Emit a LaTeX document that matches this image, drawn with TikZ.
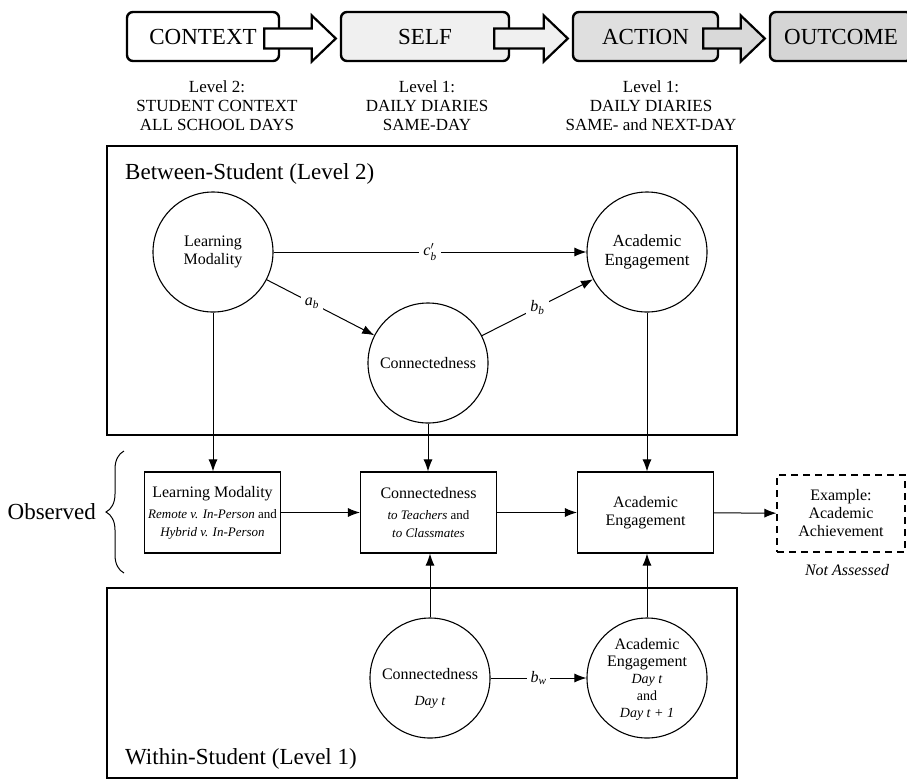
\documentclass[tikz,border=0pt]{standalone}
\usepackage{fontspec}
\setmainfont{Liberation Serif}
\usetikzlibrary{arrows.meta, calc, decorations.pathreplacing, positioning}

\newcommand{\fsz}[1]{\fontsize{#1}{#1}\selectfont}
\newcommand{\stagearrow}[3]{%
  \draw[bigarrow, fill=#3] ($(#1.east)+(-16,-8)$) -- ($(#2.west)+(-28,-8)$)
    -- ($(#2.west)+(-28,-21)$) -- ($(#2.west)+(-4,2)$) -- ($(#2.west)+(-28,25)$)
    -- ($(#2.west)+(-28,12)$) -- ($(#1.east)+(-16,12)$) -- cycle;}

\begin{document}
\begin{tikzpicture}[x=1pt, y=-1pt,
    stage/.style={draw, rounded corners=6pt, line width=2.4pt, minimum height=49pt, font=\fsz{23}},
    bigarrow/.style={draw, line width=2.2pt, line join=miter},
    levelnote/.style={align=center, font=\fontsize{17}{19}\selectfont},
    panel/.style={draw, line width=1.3pt},
    latent/.style={draw, circle, line width=1.1pt, minimum size=120pt, inner sep=0pt, align=center, font=\fontsize{16}{18}\selectfont},
    obs/.style={draw, line width=1.1pt, minimum width=136pt, minimum height=81pt, align=center, font=\fontsize{16}{18}\selectfont},
    link/.style={line width=1pt, -{Latex[length=12pt,width=9pt]}},
    coef/.style={fill=white, inner sep=4pt, font=\fontsize{16}{18}\selectfont}]
    \useasboundingbox (0,0) rectangle (907,780);
    \clip (0,0) rectangle (907,780);

    \node[stage, fill=white, minimum width=152pt] (context) at (203,36.5) {CONTEXT};
    \node[stage, fill=gray!12, minimum width=168pt] (self) at (425,36.5) {SELF};
    \node[stage, fill=gray!25, minimum width=145pt] (action) at (645.5,36.5) {ACTION};
    \node[stage, fill=gray!33, minimum width=142pt] (outcome) at (841,36.5) {OUTCOME};
    \stagearrow{context}{self}{white}
    \stagearrow{self}{action}{gray!12}
    \stagearrow{action}{outcome}{gray!30}

    \node[levelnote] (ctxnote) at (217,106) {Level 2:\\STUDENT CONTEXT\\ALL SCHOOL DAYS};
    \node[levelnote] (selfnote) at (427,106) {Level 1:\\DAILY DIARIES\\SAME-DAY};
    \node[levelnote] (actnote) at (651,106) {Level 1:\\DAILY DIARIES\\SAME- and NEXT-DAY};

    \draw[panel] (107,146) rectangle (737,435);
    \node[anchor=base west, inner sep=0pt, font=\fsz{23}] (btitle) at (125,179) {Between-Student (Level 2)};
    \draw[panel] (107,588) rectangle (737,778);
    \node[anchor=base west, inner sep=0pt, font=\fsz{23}] (wtitle) at (125,764) {Within-Student (Level 1)};

    \node[latent] (blm) at (213,252) {Learning\\Modality};
    \node[latent] (bconn) at (428,363) {Connectedness};
    \node[latent, font=\fontsize{17}{19}\selectfont] (bae) at (647,252) {Academic\\Engagement};

    \node[obs] (olm) at (212.5,512.5) {Learning Modality\\[3pt] {\fsz{13}\textit{Remote v. In-Person} and}\\ {\fsz{13}\textit{Hybrid v. In-Person}}};
    \node[obs] (oconn) at (428.5,512.5) {Connectedness\\[3pt] {\fsz{13}\textit{to Teachers} and}\\ {\fsz{13}\textit{to Classmates}}};
    \node[obs] (oae) at (645.5,512.5) {Academic\\Engagement};
    \node[obs, minimum width=128pt, minimum height=77pt, dash pattern=on 7pt off 5pt] (oach) at (841,513.5) {Example:\\Academic\\Achievement};
    \node[font=\fontsize{16}{18}\selectfont\itshape] (na) at (847,570) {Not Assessed};

    \node[latent] (wconn) at (430,678) {};
    \node[align=center, font=\fontsize{16}{18}\selectfont] (wconntext) at (430,688) {Connectedness\\[8pt] {\fsz{14}\textit{Day t}}};
    \node[latent] (wae) at (647,678) {};
    \node[align=center, font=\fontsize{16}{17}\selectfont] (waetext) at (647,679) {Academic\\Engagement\\ {\fsz{14}\textit{Day t}}\\ {\fsz{14}and}\\ {\fsz{14}\textit{Day t + 1}}};

    \draw[line width=1pt, decorate, decoration={brace, amplitude=18pt, aspect=0.5}] (124,573) -- (124,451);
    \node[anchor=east, inner sep=0pt, font=\fsz{23}] (observed) at (96,512) {Observed};

    \draw[link] (blm) -- node[coef] {$\mathit{c}'_{\mathit{b}}$} (bae);
    \draw[link] (blm) -- node[coef, pos=0.42] {$\mathit{a}_{\mathit{b}}$} (bconn);
    \draw[link] (bconn) -- node[coef] {$\mathit{b}_{\mathit{b}}$} (bae);
    \draw[link] (blm) -- (blm |- olm.north);
    \draw[link] (bconn) -- (bconn |- oconn.north);
    \draw[link] (bae) -- (bae |- oae.north);
    \draw[link] (olm) -- (oconn);
    \draw[link] (oconn) -- (oae);
    \draw[link] (oae) -- (oach);
    \draw[link] (wconn) -- (wconn |- oconn.south);
    \draw[link] (wae) -- (wae |- oae.south);
    \draw[link] (wconn) -- node[coef] {$\mathit{b}_{\mathit{w}}$} (wae);
\end{tikzpicture}
\end{document}
